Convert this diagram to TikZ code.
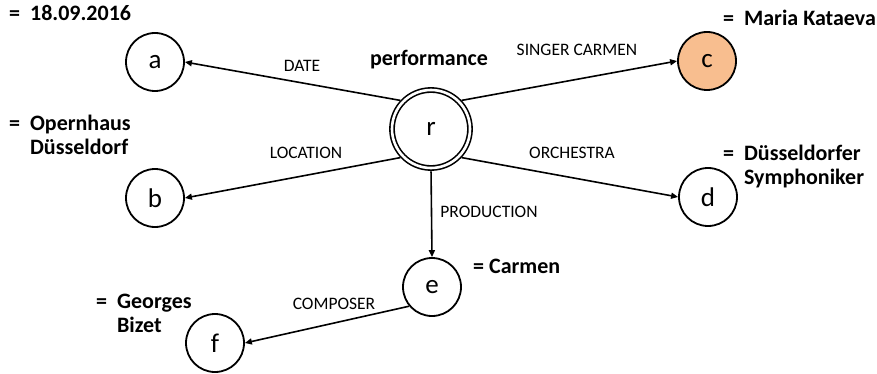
\documentclass[tikz,border=0pt]{standalone}
\usepackage{fontspec}
\setmainfont{Carlito}
\usetikzlibrary{arrows.meta}
\definecolor{corange}{RGB}{248,190,143}
\begin{document}
\begin{tikzpicture}[x=1pt,y=-1pt,
  ent/.style={circle,draw,line width=1.8pt,minimum size=58pt,inner sep=0pt,font=\fontsize{27}{30}\selectfont},
  root/.style={circle,draw,double,double distance=2.6pt,line width=1.6pt,minimum size=78pt,inner sep=0pt,font=\fontsize{27}{30}\selectfont},
  rel/.style={line width=1.6pt,-{Triangle[length=7pt,width=6pt]}},
  elab/.style={font=\fontsize{17.5}{20}\selectfont,inner sep=0pt},
  vlab/.style={font=\fontsize{22}{24.5}\selectfont\bfseries,inner sep=0pt,align=left}
]
\useasboundingbox (0,0) rectangle (877,374);
\node[root] (r) at (431,129) {r};
\node[ent] (a) at (155,62) {a};
\node[ent] (b) at (155,198) {b};
\node[ent,fill=corange] (c) at (707,61) {c};
\node[ent] (d) at (708,197) {d};
\node[ent] (e) at (432,287) {e};
\node[ent] (f) at (215,343) {f};

\draw[rel,shorten <=2.5pt] (r.135) -- (a.east);
\draw[rel,shorten <=2.5pt] (r.225) -- (b.east);
\draw[rel,shorten <=2.5pt] (r.45) -- (c.west);
\draw[rel,shorten <=2.5pt] (r.-45) -- (d.west);
\draw[rel,shorten <=2.5pt] (r.south) -- (e.north);
\draw[rel] (e.220) -- (f.east);

\node[elab] (ldate) at (302,66) {DATE};
\node[elab] (lsing) at (577,50) {SINGER CARMEN};
\node[elab] (lloc) at (306,153) {LOCATION};
\node[elab] (lorch) at (572,153) {ORCHESTRA};
\node[elab] (lprod) at (489,212) {PRODUCTION};
\node[elab] (lcomp) at (334,304) {COMPOSER};

\node[vlab] (perf) at (429,60) {performance};
\node[vlab,anchor=west] (va) at (9,13) {=\ \ 18.09.2016};
\node[vlab,anchor=west] (vc) at (723,18) {=\ \ Maria Kataeva};
\node[vlab,anchor=north west] (vb) at (9,113) {=\ \ \begin{tabular}[t]{@{}l@{}}Opernhaus\\Düsseldorf\end{tabular}};
\node[vlab,anchor=north west] (vd) at (723,143) {=\ \ \begin{tabular}[t]{@{}l@{}}Düsseldorfer\\Symphoniker\end{tabular}};
\node[vlab,anchor=west] (ve) at (473,266) {= Carmen};
\node[vlab,anchor=north west] (vf) at (96,291) {=\ \ \begin{tabular}[t]{@{}l@{}}Georges\\Bizet\end{tabular}};
\end{tikzpicture}
\end{document}
